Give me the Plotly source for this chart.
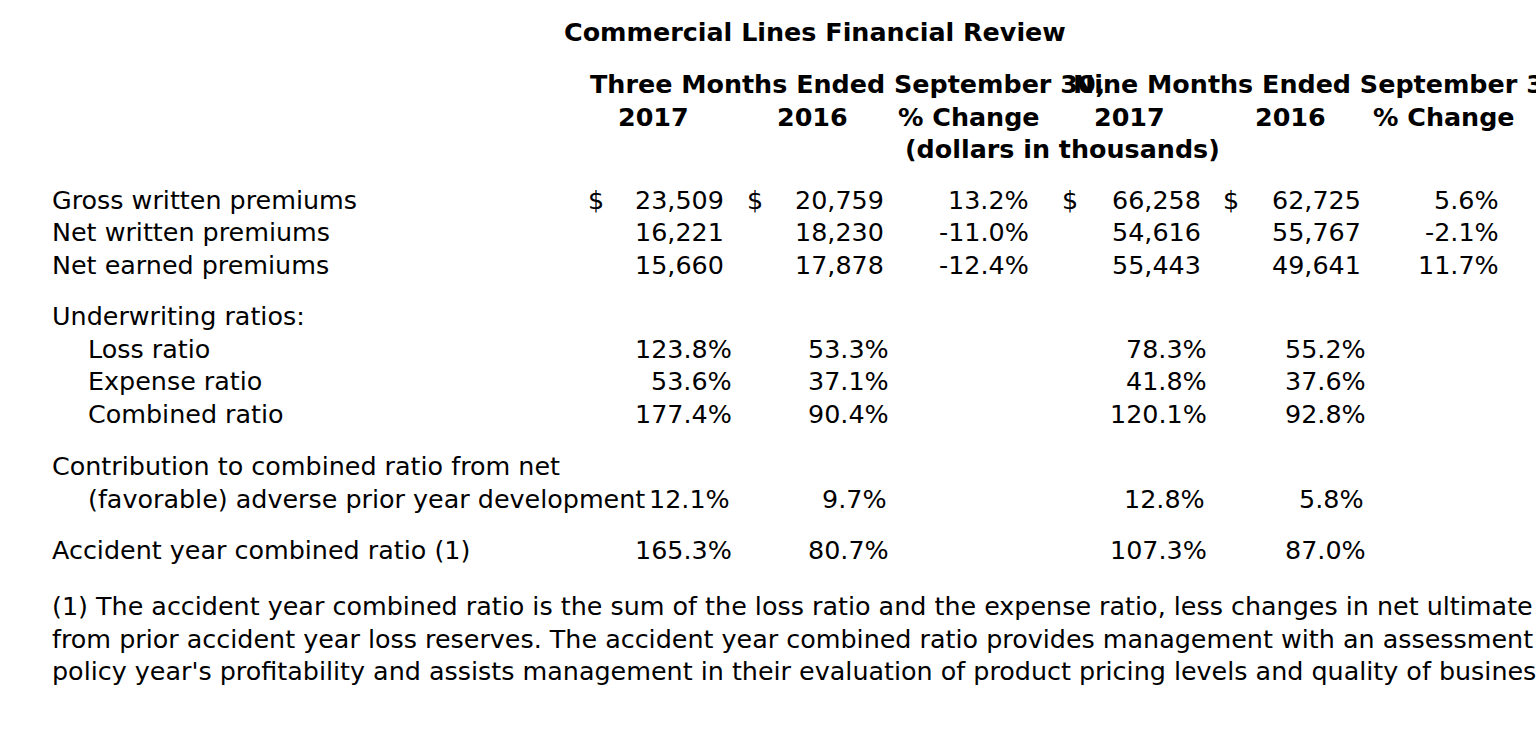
import plotly.graph_objects as go

# ---- data ----
title = "Commercial Lines Financial Review"
period_headers = ["Three Months Ended September 30,", "Nine Months Ended September 30,"]
column_headers = ["2017", "2016", "% Change", "2017", "2016", "% Change"]
units_note = "(dollars in thousands)"

premium_rows = ["Gross written premiums", "Net written premiums", "Net earned premiums"]
q3_2017 = [23509, 16221, 15660]
q3_2016 = [20759, 18230, 17878]
q3_change = [13.2, -11.0, -12.4]
ytd_2017 = [66258, 54616, 55443]
ytd_2016 = [62725, 55767, 49641]
ytd_change = [5.6, -2.1, 11.7]

ratio_section = "Underwriting ratios:"
ratio_rows = ["Loss ratio", "Expense ratio", "Combined ratio"]
ratio_q3_2017 = [123.8, 53.6, 177.4]
ratio_q3_2016 = [53.3, 37.1, 90.4]
ratio_ytd_2017 = [78.3, 41.8, 120.1]
ratio_ytd_2016 = [55.2, 37.6, 92.8]

pyd_label = ["Contribution to combined ratio from net", "(favorable) adverse prior year development"]
pyd_values = [12.1, 9.7, 12.8, 5.8]

ay_label = "Accident year combined ratio (1)"
ay_values = [165.3, 80.7, 107.3, 87.0]

footnote = [
    "(1) The accident year combined ratio is the sum of the loss ratio and the expense ratio, less changes in net ultimate loss estimates",
    "from prior accident year loss reserves. The accident year combined ratio provides management with an assessment of the specific",
    "policy year's profitability and assists management in their evaluation of product pricing levels and quality of business written.",
]

# ---- layout (page pixel positions) ----
W, H = 1536, 747
FS = 25.4
FONT = "DejaVu Sans"
LPAD, RPAD = 2, 3  # compensate annotation box padding
LEFT = 52
INDENT = 88
prem_right = [723, 883, 1028, 1200, 1360, 1498]
dollar_x = [596, 755, 1070, 1231]
ratio_right = [731, 888, 1206, 1365]
header_centers = [653, 812, 969, 1129, 1290, 1444]
prem_y = [200, 232, 265]
ratio_y = [349, 381, 414]
foot_y = [606, 639, 671]

ann = []


def t(text, x, y, anchor="left", bold=False):
    if anchor == "left":
        x -= LPAD
    elif anchor == "right":
        x += RPAD
    ann.append(dict(
        text=f"<b>{text}</b>" if bold else text,
        x=x, y=y, xref="x", yref="y",
        xanchor=anchor, yanchor="middle",
        showarrow=False,
        font=dict(family=FONT, size=FS, color="black"),
    ))


t(title, 815, 32, "center", True)
t(period_headers[0], 590, 84, "left", True)
t(period_headers[1], 1073, 84, "left", True)
for h, cx in zip(column_headers, header_centers):
    t(h, cx, 117, "center", True)
t(units_note, 1062, 149, "center", True)

cols = [q3_2017, q3_2016, q3_change, ytd_2017, ytd_2016, ytd_change]
for i, label in enumerate(premium_rows):
    y = prem_y[i]
    t(label, LEFT, y)
    for j, col in enumerate(cols):
        v = col[i]
        s = f"{v:.1f}%" if j in (2, 5) else f"{v:,}"
        t(s, prem_right[j], y, "right")
    if i == 0:
        for dx in dollar_x:
            t("$", dx, y, "center")

t(ratio_section, LEFT, 316)
rcols = [ratio_q3_2017, ratio_q3_2016, ratio_ytd_2017, ratio_ytd_2016]
for i, label in enumerate(ratio_rows):
    y = ratio_y[i]
    t(label, INDENT, y)
    for j, col in enumerate(rcols):
        t(f"{col[i]:.1f}%", ratio_right[j], y, "right")

t(pyd_label[0], LEFT, 466)
t(pyd_label[1], INDENT, 499)
for j, v in enumerate(pyd_values):
    t(f"{v:.1f}%", ratio_right[j] - 2, 499, "right")

t(ay_label, LEFT, 550)
for j, v in enumerate(ay_values):
    t(f"{v:.1f}%", ratio_right[j], 550, "right")

for line, y in zip(footnote, foot_y):
    t(line, LEFT, y)

fig = go.Figure()
fig.update_layout(
    width=W, height=H,
    margin=dict(l=0, r=0, t=0, b=0),
    paper_bgcolor="white", plot_bgcolor="white",
    xaxis=dict(range=[0, W], visible=False, fixedrange=True),
    yaxis=dict(range=[H, 0], visible=False, fixedrange=True),
    annotations=ann,
    showlegend=False,
)
fig.write_html(
    "out.html",
    config={"displayModeBar": False},
    post_script="document.body.style.margin='0';document.body.style.overflow='hidden';",
)
